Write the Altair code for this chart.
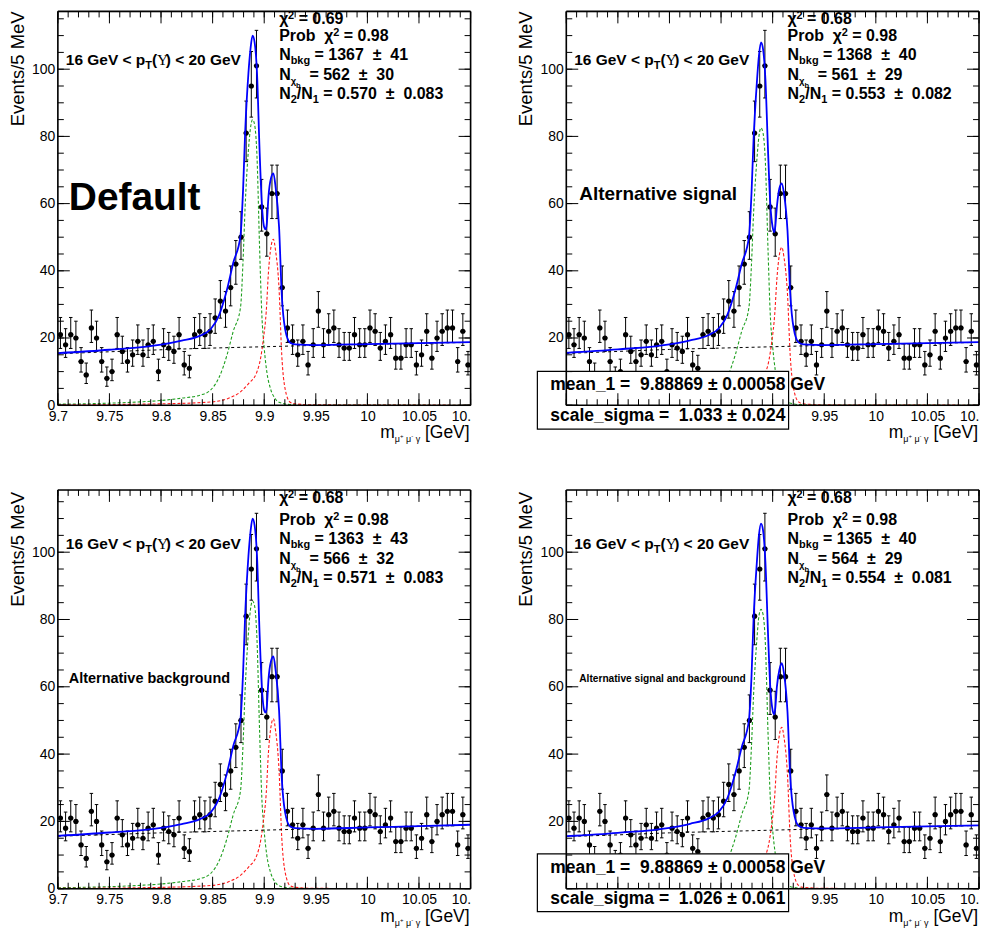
import math
import altair as alt
import pandas as pd

# ------------------------------------------------------------------
# DATA
# ------------------------------------------------------------------
bin_low_edge = 9.7
bin_width = 0.005
counts = [21, 18, 21, 20, 13, 9, 23, 20, 13, 8,
          10, 21, 16, 13, 15, 19, 15, 18, 19, 10,
          18, 17, 16, 21, 12, 11, 21, 22, 21, 22,
          26, 31, 28, 35, 42, 50, 81, 95, 101, 59,
          51, 63, 63, 35, 23, 19, 15, 19, 12, 18,
          28, 18, 22, 23, 18, 17, 17, 21, 18, 18,
          23, 22, 17, 19, 21, 14, 14, 18, 18, 12,
          15, 22, 14, 20, 22, 23, 23, 13, 22, 12]

x_major = [9.7, 9.75, 9.8, 9.85, 9.9, 9.95, 10.0, 10.05, 10.1]
x_minor = [round(9.7 + 0.01 * i, 2) for i in range(41)]
y_major = [0, 20, 40, 60, 80, 100]
y_minor = [5 * i for i in range(24)]
# tick labels left uncovered by the parameter box
x_labels_box = [9.95, 10.0, 10.05, 10.1]
y_labels_box = [20, 40, 60, 80, 100]

# background component (black dashed)
bg_x = [9.70, 9.75, 9.80, 9.85, 9.90, 9.95, 10.00, 10.05, 10.10]
tl_bg = [15.3, 15.9, 16.5, 17.0, 17.4, 17.8, 18.1, 18.4, 18.7]
tr_bg = [15.4, 16.0, 16.6, 17.0, 17.4, 17.8, 18.1, 18.4, 18.7]
bl_bg = [15.6, 16.1, 16.6, 17.0, 17.4, 17.8, 18.2, 18.6, 19.0]
br_bg = [15.5, 16.0, 16.6, 17.0, 17.4, 17.8, 18.1, 18.5, 18.8]

# total fit (blue)
blue_x = [9.70, 9.75, 9.80, 9.82, 9.838, 9.848, 9.856, 9.864, 9.870, 9.877,
          9.8795, 9.8815, 9.8847, 9.8867, 9.8887, 9.8907, 9.893, 9.8955, 9.8977, 9.900,
          9.9015, 9.9025, 9.9041, 9.9065, 9.9089, 9.911, 9.9144, 9.917, 9.9203, 9.9251,
          9.93, 9.95, 10.0, 10.05, 10.1]
tl_blue = [15.5, 16.5, 18.0, 19.2, 20.7, 22.6, 26.6, 34.5, 42.4, 50.4,
           64, 81, 98.8, 106, 110, 108, 99, 76, 60, 53,
           52.3, 54, 62, 67.5, 69, 65, 53, 33, 22.6, 18.6,
           18.1, 17.9, 18.2, 18.5, 18.8]
tr_blue = [15.6, 16.6, 18.1, 19.3, 20.9, 22.9, 26.8, 34.5, 42.0, 50.0,
           63, 79, 96, 104, 108, 106, 97, 76, 60, 53,
           51.5, 53, 59, 64.5, 66, 63, 52, 33.5, 23, 18.7,
           18.1, 17.9, 18.2, 18.5, 18.8]
bl_blue = [15.7, 16.7, 18.1, 19.2, 20.7, 22.6, 26.6, 34.5, 42.4, 50.4,
           64, 81, 98.8, 106, 110, 108, 99, 76, 60, 53,
           52.3, 54, 62, 67.5, 69, 65, 53, 33, 22.6, 18.5,
           18.0, 17.8, 18.2, 18.6, 19.0]
br_blue = [15.6, 16.6, 18.1, 19.3, 20.9, 22.9, 26.8, 34.5, 42.0, 50.0,
           63, 80, 97, 105, 108.5, 106.5, 97, 76, 60, 53,
           51.8, 53.5, 60, 65, 67, 64, 52.5, 33.5, 23, 18.7,
           18.1, 17.9, 18.2, 18.5, 18.8]

# chi_b1 component (green dashed)
green_x = [9.70, 9.75, 9.78, 9.80, 9.82, 9.838, 9.848, 9.856, 9.864, 9.870,
           9.877, 9.8795, 9.8815, 9.8847, 9.8867, 9.8887, 9.8907, 9.893, 9.8955, 9.8977,
           9.900, 9.9025, 9.906, 9.9105, 9.915, 9.925, 9.95, 10.1]
tl_green = [0.3, 0.6, 1.0, 1.4, 2.1, 3.0, 4.5, 8.1, 15, 22,
            29, 43, 59, 76, 82.5, 85, 83.5, 74, 47, 27,
            17, 10, 5, 2, 0.8, 0.2, 0.05, 0]
tr_green = [0.3, 0.6, 1.0, 1.4, 2.1, 3.0, 4.6, 8.3, 15.2, 22,
            29, 42, 57, 73, 80, 82.5, 81, 72, 46.5, 27,
            17.5, 10.5, 5.3, 2.2, 0.9, 0.2, 0.05, 0]
bl_green = [0.3, 0.6, 1.0, 1.4, 2.1, 3.0, 4.5, 8.1, 15, 22,
            29, 43, 59, 76, 83, 85.5, 84, 74, 47, 27,
            17, 10, 5, 2, 0.8, 0.2, 0.05, 0]
br_green = [0.3, 0.6, 1.0, 1.4, 2.1, 3.0, 4.6, 8.3, 15.2, 22,
            29, 42.5, 57.5, 74, 81, 83, 81.5, 72.5, 46.5, 27,
            17.5, 10.5, 5.3, 2.2, 0.9, 0.2, 0.05, 0]

# chi_b2 component (red dashed)
red_x = [9.70, 9.80, 9.85, 9.865, 9.8767, 9.885, 9.8928, 9.8965, 9.8992, 9.902,
         9.9041, 9.9065, 9.9089, 9.911, 9.9144, 9.917, 9.9203, 9.9251, 9.93, 9.95, 10.1]
tl_red = [0.1, 0.4, 1.0, 2.0, 3.9, 6.5, 9.8, 14, 19.7, 28,
          39.5, 47, 49.4, 46, 34.5, 15, 4.8, 0.9, 0.4, 0.1, 0]
tr_red = [0.1, 0.4, 1.0, 2.0, 3.8, 6.3, 9.5, 13.5, 19, 27,
          37.5, 44.7, 47, 44, 33, 15, 5, 1, 0.4, 0.1, 0]
bl_red = [0.1, 0.4, 1.0, 2.0, 3.9, 6.5, 9.9, 14.2, 20, 28.5,
          40.5, 48, 50.5, 47, 35, 15.2, 4.9, 0.9, 0.4, 0.1, 0]
br_red = [0.1, 0.4, 1.0, 2.0, 3.8, 6.3, 9.6, 13.7, 19.3, 27.5,
          38.3, 45.6, 48, 45, 33.7, 15, 5, 1, 0.4, 0.1, 0]

# fit results printed on the panels
tl_stats = ["0.69", "0.98", "1367", "41", "562", "30", "0.570", "0.083"]
tr_stats = ["0.68", "0.98", "1368", "40", "561", "29", "0.553", "0.082"]
bl_stats = ["0.68", "0.98", "1363", "43", "566", "32", "0.571", "0.083"]
br_stats = ["0.68", "0.98", "1365", "40", "564", "29", "0.554", "0.081"]
tr_box = ["9.88869", "0.00058", "1.033", "0.024"]
br_box = ["9.88869", "0.00058", "1.026", "0.061"]

# ------------------------------------------------------------------
# STYLE / LAYOUT
# ------------------------------------------------------------------
W = 414
SANS = "Liberation Sans"
SERIF = "Liberation Serif"
BLUE = "#0000ff"
GREEN = "#1f9f1f"
RED = "#ff1a1a"

BOLD_W = {' ': 278, '(': 333, ')': 333, '+': 584, '-': 333, '.': 278, '/': 278,
          '<': 584, '=': 584, '_': 556, '±': 549,
          'A': 722, 'D': 722, 'G': 778, 'N': 722, 'P': 667, 'T': 611, 'V': 667,
          'a': 556, 'b': 611, 'c': 556, 'd': 611, 'e': 556, 'f': 333, 'g': 611,
          'i': 278, 'k': 556, 'l': 278, 'm': 889, 'n': 611, 'o': 611, 'p': 611,
          'r': 389, 's': 556, 't': 333, 'u': 611, 'v': 556,
          'χ': 560, 'Υ': 700, 'μ': 611, 'γ': 556}
REG_W = {' ': 278, '[': 278, ']': 278, 'G': 778, 'V': 667, 'e': 556, 'm': 833,
         'μ': 576, 'γ': 500, '+': 584, '-': 333}


def tw(s, size, bold=True):
    tab = BOLD_W if bold else REG_W
    return sum(tab.get(c, 556) for c in s) * size / 1000.0


ONE = pd.DataFrame({"k": [0]})

XS = alt.Scale(domain=[9.7, 10.1], nice=False, zero=False)


def x_axis(vals):
    return alt.Axis(values=vals, format=".4~g",
                    labelExpr="datum.value > 10.09 ? '10.' : datum.label",
                    labelAlign={"condition": {"test": "datum.value > 10.09", "value": "right"},
                                "value": "center"},
                    title=None, domain=False, ticks=False, tickSize=0, grid=False,
                    labelFont=SANS, labelFontSize=14, labelColor="black",
                    labelPadding=4, labelFlush=False, labelOverlap=False, zindex=0)


def y_axis(vals):
    return alt.Axis(values=vals, format="d", title=None, domain=False, ticks=False,
                    tickSize=0, grid=False, labelFont=SANS, labelFontSize=14,
                    labelColor="black", labelPadding=3, labelOverlap=False,
                    labelFlush=False, zindex=0)


def segs(segments, x0, y0, right=False):
    """segments: (text, size, dy, bold, font); each drawn as its own text mark"""
    total = sum(tw(t, s, b) for t, s, dy, b, f in segments)
    x = x0 - total if right else x0
    out = []
    for t, s, dy, b, f in segments:
        lead = len(t) - len(t.lstrip(' '))
        shown = t.strip(' ')
        if shown:
            out.append(alt.Chart(ONE).mark_text(
                text=shown, align="left", baseline="alphabetic", font=f,
                fontSize=s, fontWeight="bold" if b else "normal", color="black"
            ).encode(x=alt.value(x + tw(' ' * lead, s, b)), y=alt.value(y0 + dy)))
        x += tw(t, s, b)
    return out


def panel(blue, green, red, bg, st, label, box, H, ymax, off, top_row):
    YS = alt.Scale(domain=[0, ymax], nice=False, zero=False)
    XAX = x_axis(x_labels_box if box else x_major)
    YAX = y_axis(y_labels_box if box else y_major)

    def X(f):
        return alt.X(f, type="quantitative", scale=XS, axis=XAX)

    def Y(f):
        return alt.Y(f, type="quantitative", scale=YS, axis=YAX)

    def curve(xv, yv, color, dash, width):
        df = pd.DataFrame({"x": xv, "y": yv})
        kw = dict(color=color, strokeWidth=width, clip=True, interpolate="monotone")
        if dash:
            kw["strokeDash"] = dash
        return alt.Chart(df).mark_line(**kw).encode(x=X("x"), y=Y("y"))

    layers = [curve(green_x, green, GREEN, [3, 2], 1.1),
              curve(red_x, red, RED, [3, 2], 1.1),
              curve(bg_x, bg, "black", [3, 3], 1.0)]

    # data points with Poisson-like error bars
    rows = []
    for i, n in enumerate(counts):
        c = bin_low_edge + bin_width * (i + 0.5)
        rows.append({"c": c, "n": n,
                     "lo": n - (math.sqrt(n + 0.25) - 0.5),
                     "hi": n + (math.sqrt(n + 0.25) + 0.5),
                     "xl": c - bin_width / 2, "xr": c + bin_width / 2,
                     "cl": c - 0.0017, "cr": c + 0.0017})
    base = alt.Chart(pd.DataFrame(rows))
    rk = dict(color="black", strokeWidth=1, clip=True)
    layers += [
        base.mark_rule(**rk).encode(x=X("c"), y=Y("lo"), y2="hi"),
        base.mark_rule(**rk).encode(x=X("cl"), x2="cr", y=Y("hi")),
        base.mark_rule(**rk).encode(x=X("cl"), x2="cr", y=Y("lo")),
        base.mark_rule(**rk).encode(x=X("xl"), x2="xr", y=Y("n")),
        base.mark_point(shape="circle", filled=True, size=27, color="black", opacity=1)
            .encode(x=X("c"), y=Y("n")),
    ]
    layers.append(curve(blue_x, blue, BLUE, None, 1.8))

    # parameter box (drawn over the lower-left corner)
    if box:
        by = 361 if top_row else 365
        layers.append(alt.Chart(ONE).mark_rect(fill="white", stroke="black", strokeWidth=1.2)
                      .encode(x=alt.value(-29), x2=alt.value(223), y=alt.value(by), y2=alt.value(by + 58)))
        B = 17.5
        layers += segs([("mean_1 =", B, 0, True, SANS), ("  " + box[0], B, 0, True, SANS),
                        (" ±", B, 0, True, SANS), (" " + box[1], B, 0, True, SANS),
                        (" GeV", B, 0, True, SANS)], -16, by + 19)
        layers += segs([("scale_sigma =", B, 0, True, SANS), ("  " + box[2], B, 0, True, SANS),
                        (" ±", B, 0, True, SANS), (" " + box[3], B, 0, True, SANS)], -16, by + 50)

    # frame and inward ticks
    r = dict(color="black", strokeWidth=1.6)
    layers += [
        alt.Chart(ONE).mark_rule(**r).encode(x=alt.value(0), x2=alt.value(W), y=alt.value(0)),
        alt.Chart(ONE).mark_rule(**r).encode(x=alt.value(0), x2=alt.value(W), y=alt.value(H)),
        alt.Chart(ONE).mark_rule(**r).encode(x=alt.value(0), y=alt.value(0), y2=alt.value(H)),
        alt.Chart(ONE).mark_rule(**r).encode(x=alt.value(W), y=alt.value(0), y2=alt.value(H)),
    ]
    t = dict(color="black", strokeWidth=1)
    for vals, L in ((x_major, 12), (x_minor, 6)):
        d = alt.Chart(pd.DataFrame({"x": vals}))
        layers.append(d.mark_rule(**t).encode(x=X("x"), y=alt.value(H), y2=alt.value(H - L)))
        layers.append(d.mark_rule(**t).encode(x=X("x"), y=alt.value(0), y2=alt.value(L)))
    for vals, L in ((y_major, 12), (y_minor, 6)):
        d = alt.Chart(pd.DataFrame({"y": vals}))
        layers.append(d.mark_rule(**t).encode(y=Y("y"), x=alt.value(0), x2=alt.value(L)))
        layers.append(d.mark_rule(**t).encode(y=Y("y"), x=alt.value(W), x2=alt.value(W - L)))

    # fit statistics
    x0 = 222
    S, s = 16, 11
    yl = [13, 35 + off, 54 + off, 74 + off, 93 + off]
    pm = "  ±  "
    layers += segs([("χ", S, 0, True, SANS), ("2", s, -5, True, SANS), (" = " + st[0], S, 0, True, SANS)], x0, yl[0])
    layers += segs([("Prob", S, 0, True, SANS), ("  χ", S, 0, True, SANS), ("2", s, -5, True, SANS),
                    (" = " + st[1], S, 0, True, SANS)], x0, yl[1])
    layers += segs([("N", S, 0, True, SANS), ("bkg", s, 4, True, SANS), (" = " + st[2], S, 0, True, SANS),
                    (pm, S, 0, True, SANS), (st[3], S, 0, True, SANS)], x0, yl[2])
    layers += segs([("N", S, 0, True, SANS), ("χ", 9.5, 4, True, SANS), ("b", 7.5, 8, True, SANS),
                    ("  = " + st[4], S, 0, True, SANS), (pm, S, 0, True, SANS), (st[5], S, 0, True, SANS)],
                   x0, yl[3])
    layers += segs([("N", S, 0, True, SANS), ("2", s, 4, True, SANS), ("/N", S, 0, True, SANS),
                    ("1", s, 4, True, SANS), (" = " + st[6], S, 0, True, SANS),
                    (pm, S, 0, True, SANS), (st[7], S, 0, True, SANS)], x0, yl[4])

    # kinematic range, axis titles
    layers += segs([("16 GeV < p", 15.5, 0, True, SANS), ("T", 11, 4, True, SANS), ("(", 15.5, 0, True, SANS),
                    ("Υ", 15.5, 0, False, SERIF), (") < 20 GeV", 15.5, 0, True, SANS)], 8, 59 + off)
    layers.append(alt.Chart(ONE).mark_text(text="Events/5 MeV", angle=270, align="right", baseline="middle",
                                           font=SANS, fontSize=18.5, color="black")
                  .encode(x=alt.value(-40), y=alt.value(0 if top_row else 2)))
    layers += segs([("m", 17.5, 0, False, SANS), ("μ", 9, 4, False, SANS), ("+", 6, 0, False, SANS),
                    (" μ", 9, 4, False, SANS), ("-", 6, 0, False, SANS), (" γ", 9, 4, False, SANS),
                    (" [GeV]", 17.5, 0, False, SANS)], 413, 433 + off, right=True)
    layers += label
    return alt.layer(*layers).properties(width=W, height=H)


lab_tl = segs([("Default", 39, 0, True, SANS)], 11, 199)
lab_tr = segs([("Alternative signal", 19, 0, True, SANS)], 13, 189)
lab_bl = segs([("Alternative background", 14.5, 0, True, SANS)], 11, 194)
lab_br = segs([("Alternative signal and background", 10.2, 0, True, SANS)], 13, 193)

TOP = dict(H=395, ymax=117.2, off=-5, top_row=True)
BOT = dict(H=400, ymax=118.5, off=0, top_row=False)

p_tl = panel(tl_blue, tl_green, tl_red, tl_bg, tl_stats, lab_tl, None, **TOP)
p_tr = panel(tr_blue, tr_green, tr_red, tr_bg, tr_stats, lab_tr, tr_box, **TOP)
p_bl = panel(bl_blue, bl_green, bl_red, bl_bg, bl_stats, lab_bl, None, **BOT)
p_br = panel(br_blue, br_green, br_red, br_bg, br_stats, lab_br, br_box, **BOT)

chart = alt.concat(p_tl, p_tr, p_bl, p_br, columns=2,
                   spacing=alt.RowColnumber(row=85, column=96), bounds="flush").properties(
    padding={"left": 0, "top": 0, "right": 0, "bottom": 0}
).configure_view(stroke=None).configure(background="white")

chart.save("out.html", embed_options={"renderer": "svg", "actions": False})
